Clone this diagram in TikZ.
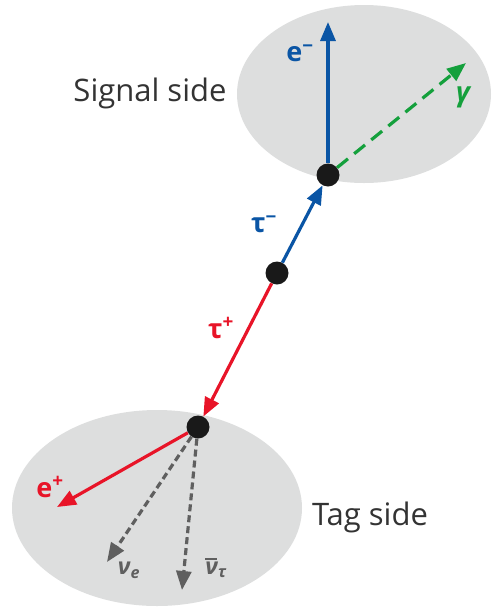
\documentclass[tikz,border=0pt]{standalone}
\usepackage{fontspec}
\setmainfont{Open Sans}
\usetikzlibrary{arrows.meta}
\definecolor{ellgray}{RGB}{221,222,222}
\definecolor{pblue}{RGB}{10,85,165}
\definecolor{pgreen}{RGB}{20,160,60}
\definecolor{pred}{RGB}{232,20,40}
\definecolor{pgray}{RGB}{95,95,95}
\newcommand{\nubar}{\leavevmode\rlap{\raisebox{0.62em}{\rule{0.5em}{0.09em}}}ν}
\tikzset{
  vtx/.style={circle,fill=black!90,inner sep=0pt,minimum size=23pt},
  arr/.style={line width=3.2pt,-{Triangle[length=19pt,width=15pt]}},
  darr/.style={line width=3.2pt,-{Triangle[length=19pt,width=15pt]}},
  side/.style={font=\fontsize{31}{36}\selectfont,text=black!80},
  plab/.style={font=\bfseries\fontsize{27}{32}\selectfont},
  nlab/.style={font=\bfseries\itshape\fontsize{23}{27}\selectfont,text=pgray},
}
\begin{document}
\begin{tikzpicture}[x=1pt,y=-1pt]
\useasboundingbox (0,0) rectangle (492,611);
\fill[ellgray] (364,94) ellipse [x radius=127,y radius=89];
\fill[ellgray] (157,508) ellipse [x radius=145,y radius=98];
\node[side] (sig) at (150,93) {Signal side};
\node[side] (tag) at (370,517) {Tag side};
\node[vtx] (vt) at (328,175) {};
\node[vtx] (vm) at (277,273) {};
\node[vtx] (vb) at (198,427) {};
\coordinate (em) at (328,22);
\coordinate (ga) at (466,63);
\coordinate (ep) at (57,507);
\coordinate (nue) at (107,562);
\coordinate (nut) at (182,590);
\draw[arr,pblue] (vt) -- (em);
\draw[darr,pgreen,dash pattern=on 14pt off 8pt] (vt) -- (ga);
\draw[arr,pblue] (vm) -- (vt);
\draw[arr,pred] (vm) -- (vb);
\draw[arr,pred] (vb) -- (ep);
\draw[darr,pgray,dash pattern=on 7pt off 4pt] (vb) -- (nue);
\draw[darr,pgray,dash pattern=on 7pt off 4pt] (vb) -- (nut);
\node[plab,text=pblue] (lem) at (300,53) {e\textsuperscript{−}};
\node[plab,text=pgreen] (lga) at (463,97) {\itshape γ};
\node[plab,text=pblue] (ltm) at (264,224) {τ\textsuperscript{−}};
\node[plab,text=pred] (ltp) at (221,328) {τ\textsuperscript{+}};
\node[plab,text=pred] (lep) at (50,487) {e\textsuperscript{+}};
\node[nlab] (lnue) at (129,570) {ν\textsubscript{e}};
\node[nlab] (lnut) at (216,568) {\nubar\textsubscript{τ}};
\end{tikzpicture}
\end{document}
